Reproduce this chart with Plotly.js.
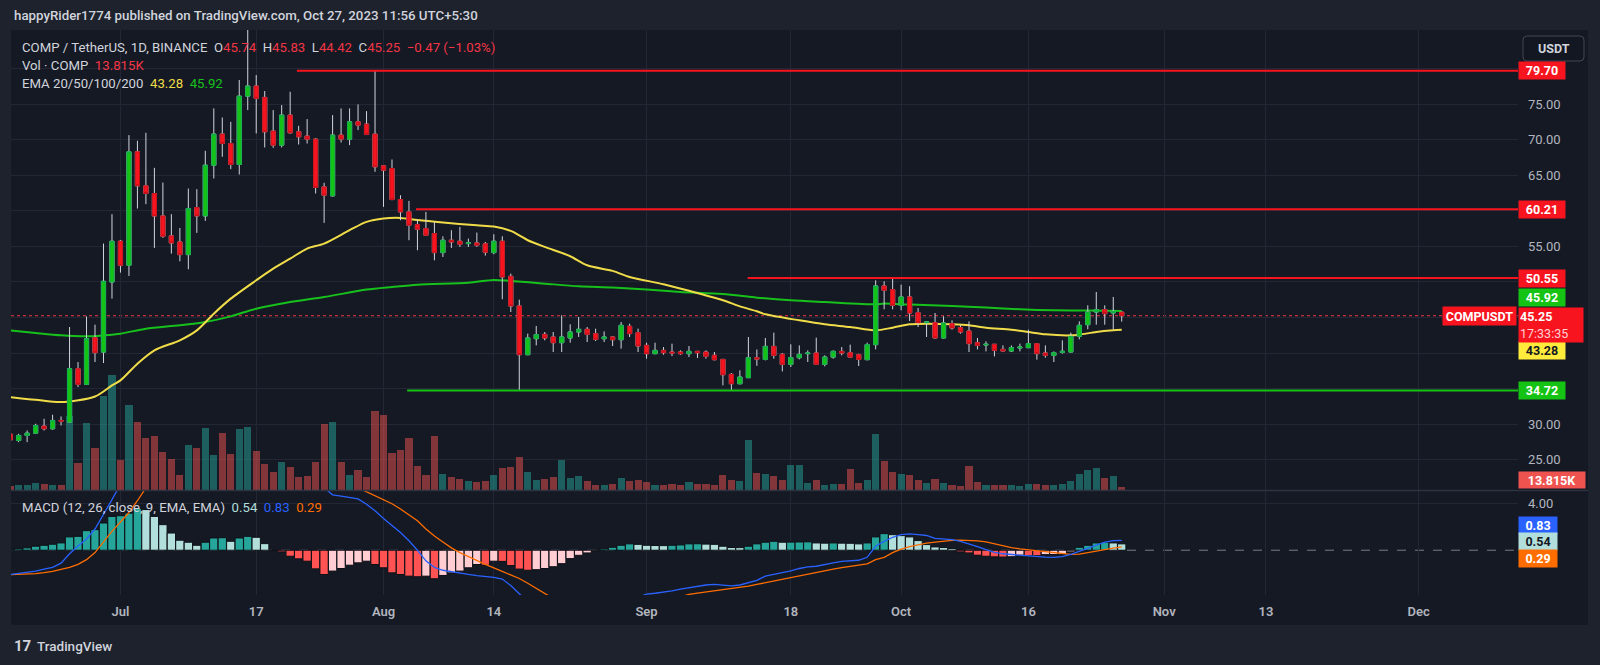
<!DOCTYPE html>
<html><head><meta charset="utf-8">
<script src="https://cdn.plot.ly/plotly-3.0.1.min.js"></script>
<style>html,body{margin:0;padding:0;background:#1e222d;}#chart{width:1600px;height:665px;}</style>
</head><body><div id="chart"></div>
<script>
// ---------------- DATA ----------------
const dates = [
'2023-06-18','2023-06-19','2023-06-20','2023-06-21','2023-06-22','2023-06-23','2023-06-24','2023-06-25','2023-06-26','2023-06-27','2023-06-28','2023-06-29','2023-06-30',
'2023-07-01','2023-07-02','2023-07-03','2023-07-04','2023-07-05','2023-07-06','2023-07-07','2023-07-08','2023-07-09','2023-07-10','2023-07-11','2023-07-12','2023-07-13','2023-07-14','2023-07-15','2023-07-16','2023-07-17','2023-07-18','2023-07-19','2023-07-20','2023-07-21','2023-07-22','2023-07-23','2023-07-24','2023-07-25','2023-07-26','2023-07-27','2023-07-28','2023-07-29','2023-07-30','2023-07-31',
'2023-08-01','2023-08-02','2023-08-03','2023-08-04','2023-08-05','2023-08-06','2023-08-07','2023-08-08','2023-08-09','2023-08-10','2023-08-11','2023-08-12','2023-08-13','2023-08-14','2023-08-15','2023-08-16','2023-08-17','2023-08-18','2023-08-19','2023-08-20','2023-08-21','2023-08-22','2023-08-23','2023-08-24','2023-08-25','2023-08-26','2023-08-27','2023-08-28','2023-08-29','2023-08-30','2023-08-31',
'2023-09-01','2023-09-02','2023-09-03','2023-09-04','2023-09-05','2023-09-06','2023-09-07','2023-09-08','2023-09-09','2023-09-10','2023-09-11','2023-09-12','2023-09-13','2023-09-14','2023-09-15','2023-09-16','2023-09-17','2023-09-18','2023-09-19','2023-09-20','2023-09-21','2023-09-22','2023-09-23','2023-09-24','2023-09-25','2023-09-26','2023-09-27','2023-09-28','2023-09-29','2023-09-30',
'2023-10-01','2023-10-02','2023-10-03','2023-10-04','2023-10-05','2023-10-06','2023-10-07','2023-10-08','2023-10-09','2023-10-10','2023-10-11','2023-10-12','2023-10-13','2023-10-14','2023-10-15','2023-10-16','2023-10-17','2023-10-18','2023-10-19','2023-10-20','2023-10-21','2023-10-22','2023-10-23','2023-10-24','2023-10-25','2023-10-26','2023-10-27'];

const open = [28.6,27.71,28.42,28.74,29.73,29.36,30.53,30.29,37.80,35.60,42.16,40.14,49.99,
55.72,52.34,68.29,63.51,62.43,59.28,56.47,55.62,53.84,60.46,59.28,66.41,70.78,69.46,66.51,76.12,77.53,75.94,71.20,69.23,73.45,71.11,70.50,70.07,63.36,62.10,70.64,70.07,72.51,72.18,70.78,
66.32,65.94,61.58,59.85,58.06,57.50,56.80,54.12,55.86,55.72,55.39,55.48,55.35,54.12,55.72,50.79,46.62,39.77,42.02,42.63,42.26,41.46,42.12,42.96,43.34,42.73,42.02,42.26,41.88,43.76,42.87,
41.08,39.91,40.38,40.15,40.15,39.91,40.24,40.15,39.68,39.11,37.00,35.69,36.54,39.35,39.11,40.94,39.82,38.41,39.35,39.91,40.01,38.41,39.44,40.24,40.05,39.77,39.07,41.18,49.43,48.92,
46.71,47.89,45.68,44.27,44.27,42.12,44.13,43.57,43.10,41.46,41.13,41.23,40.52,40.29,40.71,40.76,41.32,40.01,39.68,40.10,40.15,42.35,43.99,45.77,46.10,45.64,45.74];
const high = [28.8,28.65,29.12,30.06,30.76,31.33,31.09,43.66,38.74,45.16,43.99,55.39,59.52,
55.9,70.64,69.84,70.96,66.04,63.97,59.52,57.59,63.13,63.04,68.43,74.39,73.12,72.51,78.38,86.0,79.08,76.83,74.16,74.86,76.73,71.95,72.89,70.2,63.93,73.45,74.39,74.39,74.95,74.01,79.78,
66.4,67.21,62.19,61.39,58.77,59.85,58.44,56.42,57.27,57.74,56.09,56.94,55.63,56.70,56.42,51.17,47.51,42.73,43.81,42.96,42.96,45.31,44.04,45.07,43.67,43.43,43.05,42.30,44.37,44.13,43.43,
41.46,41.46,40.85,41.32,40.38,40.99,40.30,40.38,40.15,39.15,37.19,37.57,42.26,40.50,42.12,42.87,40.01,41.23,41.08,40.38,42.16,39.68,40.38,40.85,41.18,39.91,41.46,50.23,50.09,50.61,
49.62,49.39,46.34,44.40,45.63,45.17,44.60,43.90,44.46,42.12,41.65,41.28,41.08,41.08,41.32,43.29,41.41,41.08,40.24,41.79,42.87,44.46,46.71,48.59,46.71,47.89,45.83];
const low = [27.5,27.48,27.48,28.65,29.12,29.22,29.82,30.2,35.22,35.50,38.74,38.60,47.65,
51.31,50.84,60.32,60.93,54.78,56.19,53.98,52.90,51.78,56.89,58.58,64.54,67.59,65.85,65.10,74.16,70.87,68.90,68.85,68.90,70.87,69.32,69.46,62.43,58.30,62.0,69.60,69.23,71.34,70.64,65.48,
60.55,61.49,58.67,55.86,54.45,56.5,53.04,53.51,54.78,54.92,54.92,54.92,53.7,53.89,47.56,45.77,34.8,39.7,41.08,41.79,40.15,40.15,41.46,42.26,41.55,41.69,41.55,40.99,40.62,42.26,40.15,
39.21,39.85,39.77,39.58,39.77,39.44,39.30,39.21,38.97,35.46,34.75,35.60,36.50,38.20,38.97,39.21,37.42,38.04,39.11,38.74,38.35,38.13,39.21,39.68,39.40,38.18,39.0,40.52,46.15,46.15,
46.01,44.51,43.66,42.26,42.05,42.05,43.29,42.73,40.15,40.52,40.24,39.54,40.24,40.15,40.24,40.70,39.07,39.35,38.74,39.91,40.10,41.93,43.34,43.99,43.99,43.29,44.42];
const close = [27.8,28.42,28.74,29.82,29.36,30.53,30.43,37.80,35.60,42.02,40.05,50.09,55.72,
52.34,68.29,63.51,62.43,59.28,56.42,55.48,53.84,60.32,59.28,66.41,70.78,69.46,66.51,76.12,77.53,75.80,71.11,69.23,73.45,70.96,70.40,70.07,63.27,62.19,70.64,70.07,72.51,72.04,70.73,66.18,
65.71,61.58,59.85,57.97,57.41,56.56,54.12,55.86,55.62,55.30,55.48,55.16,54.18,55.72,50.70,46.62,39.77,42.12,42.59,42.12,41.46,42.26,42.96,43.34,42.63,41.93,42.26,41.88,43.90,42.73,40.99,
39.91,40.38,40.05,40.01,39.91,40.24,40.05,39.54,39.07,36.96,35.69,36.63,39.35,39.15,40.94,39.68,38.41,39.35,39.82,40.01,38.41,39.44,40.24,40.01,39.44,39.11,41.18,49.43,48.82,46.71,
47.89,45.63,44.27,44.37,42.12,44.23,43.52,42.96,41.32,41.08,41.23,40.38,40.29,40.76,40.85,41.32,39.91,39.68,40.05,40.24,42.35,43.90,45.77,46.10,45.54,45.87,45.25];

// volume in thousands of COMP
const volume = [17,21,25,32,28,21,21,311,113,281,176,395,483,
126,357,286,218,227,160,130,63,189,176,260,147,239,151,256,265,164,109,76,118,97,55,59,118,277,286,118,63,84,55,332,
315,155,168,218,101,63,227,71,55,50,38,34,39,63,94,97,140,77,45,47,55,126,52,59,38,25,21,29,52,38,46,
37,25,21,29,25,34,29,29,25,63,45,41,210,74,70,59,45,106,106,32,46,25,28,28,88,32,43,235,122,76,
70,63,45,32,50,32,25,17,104,37,25,25,25,21,17,29,29,25,25,29,38,70,87,94,52,60,13.815];

const macdHist = [0.05,0.11,0.2,0.34,0.42,0.51,0.62,1.13,1.18,1.66,1.75,2.31,2.87,
2.93,3.15,3.55,3.45,2.87,2.17,1.46,0.85,0.68,0.42,0.68,1.04,1.06,0.76,1.04,1.18,1.1,0.56,-0.04,-0.14,-0.51,-0.73,-0.93,-1.58,-2.06,-1.77,-1.55,-1.27,-1.07,-0.93,-1.21,
-1.49,-1.92,-2.06,-2.2,-2.25,-2.2,-2.42,-2.14,-1.92,-1.77,-1.49,-1.21,-1.27,-0.93,-0.95,-1.3,-1.6,-1.7,-1.65,-1.55,-1.4,-1.14,-0.71,-0.43,-0.23,-0.06,0.11,0.25,0.42,0.54,0.5,
0.42,0.4,0.39,0.42,0.45,0.54,0.55,0.52,0.5,0.34,0.23,0.22,0.34,0.54,0.68,0.76,0.68,0.69,0.70,0.71,0.62,0.60,0.62,0.6,0.59,0.54,0.62,1.13,1.41,1.32,
1.24,1.13,0.82,0.48,0.28,0.23,0.14,-0.14,-0.23,-0.42,-0.51,-0.56,-0.58,-0.55,-0.42,-0.45,-0.46,-0.37,-0.36,-0.34,-0.14,0.25,0.42,0.62,0.68,0.62,0.54];

const N_ = null;
const macdLine = [-2.06,-1.98,-1.88,-1.77,-1.6,-1.45,-1.1,-0.3,0.35,0.95,1.8,3.0,4.3,
5.6,N_,N_,N_,N_,N_,N_,N_,N_,N_,N_,N_,N_,N_,N_,N_,N_,N_,N_,N_,N_,N_,N_,N_,5.3,4.7,4.6,4.5,4.35,3.9,3.35,
2.7,2.1,1.5,0.8,0.0,-0.9,-1.45,-1.7,-1.83,-1.95,-2.05,-2.15,-2.22,-2.3,-2.45,-3.0,-3.7,-4.3,N_,N_,N_,N_,N_,N_,N_,N_,N_,N_,N_,N_,-4.0,
-3.72,-3.65,-3.57,-3.45,-3.3,-3.18,-3.05,-2.95,-2.9,-2.97,-3.02,-2.95,-2.75,-2.55,-2.2,-2.05,-1.95,-1.75,-1.55,-1.42,-1.36,-1.2,-1.07,-0.95,-0.9,-0.85,-0.6,0.34,0.75,1.1,
1.32,1.38,1.33,1.25,1.0,0.95,0.9,0.75,0.55,0.3,0.05,-0.18,-0.3,-0.37,-0.44,-0.51,-0.55,-0.59,-0.6,-0.55,-0.35,-0.1,0.2,0.45,0.68,0.82,0.83];
const signalLine = [-2.08,-2.06,-2.03,-1.98,-1.9,-1.8,-1.63,-1.45,-1.2,-0.8,-0.2,0.7,1.6,
2.4,3.2,4.2,5.3,N_,N_,N_,N_,N_,N_,N_,N_,N_,N_,N_,N_,N_,N_,N_,N_,N_,N_,N_,N_,N_,N_,N_,N_,5.3,4.95,4.6,
4.3,3.95,3.5,3.0,2.5,1.8,1.2,0.7,0.2,-0.2,-0.55,-0.9,-1.2,-1.5,-1.8,-2.1,-2.4,-2.8,-3.25,-3.7,-4.1,N_,N_,N_,N_,N_,N_,N_,N_,N_,N_,
N_,N_,N_,N_,-3.95,-3.75,-3.65,-3.55,-3.45,-3.35,-3.25,-3.18,-3.05,-2.9,-2.75,-2.6,-2.45,-2.3,-2.15,-2.0,-1.85,-1.72,-1.6,-1.47,-1.35,-1.25,-1.15,-0.8,-0.6,-0.2,
0.1,0.3,0.45,0.6,0.68,0.78,0.83,0.85,0.85,0.8,0.7,0.52,0.36,0.22,0.12,0.03,-0.06,-0.14,-0.22,-0.3,-0.36,-0.33,-0.22,-0.1,0.05,0.17,0.29];

// EMA lines, read at sample dates
const emaYellowDates = ['2023-06-18','2023-06-21','2023-06-24','2023-06-28','2023-06-30','2023-07-01','2023-07-03','2023-07-05','2023-07-08','2023-07-10','2023-07-12','2023-07-14','2023-07-17','2023-07-19','2023-07-21','2023-07-23','2023-07-25','2023-07-28','2023-07-30','2023-08-01','2023-08-03','2023-08-05','2023-08-08','2023-08-12','2023-08-14','2023-08-16','2023-08-17','2023-08-18','2023-08-20','2023-08-23','2023-08-25','2023-08-28','2023-08-30','2023-09-03','2023-09-06','2023-09-10','2023-09-12','2023-09-14','2023-09-15','2023-09-19','2023-09-22','2023-09-25','2023-09-28','2023-09-30','2023-10-02','2023-10-04','2023-10-07','2023-10-09','2023-10-11','2023-10-14','2023-10-16','2023-10-18','2023-10-21','2023-10-22','2023-10-24','2023-10-26','2023-10-27'];
const emaYellow = [33.81,33.43,33.11,33.9,35.46,36.16,38.5,40.38,41.79,43.19,45.54,47.65,50.23,51.87,53.28,54.69,55.39,57.27,58.44,58.91,59.0,58.7,58.35,57.95,57.78,57.17,56.56,55.86,54.92,53.61,52.34,51.55,50.7,49.67,48.75,47.42,46.57,45.87,45.45,44.6,44.04,43.66,43.2,43.57,44.04,44.13,44.04,43.9,43.57,43.29,42.96,42.63,42.49,42.59,42.96,43.2,43.28];
const emaGreenDates = ['2023-06-18','2023-06-21','2023-06-24','2023-06-27','2023-06-29','2023-07-01','2023-07-04','2023-07-08','2023-07-11','2023-07-14','2023-07-17','2023-07-21','2023-07-25','2023-07-30','2023-08-02','2023-08-05','2023-08-11','2023-08-14','2023-08-16','2023-08-20','2023-08-24','2023-08-28','2023-09-01','2023-09-05','2023-09-10','2023-09-14','2023-09-18','2023-09-22','2023-09-28','2023-09-29','2023-10-02','2023-10-07','2023-10-11','2023-10-15','2023-10-19','2023-10-23','2023-10-27'];
const emaGreen = [43.19,42.82,42.49,42.35,42.49,42.72,43.43,43.9,44.37,45.16,46.24,47.18,47.88,48.92,49.29,49.62,49.9,50.28,50.14,49.76,49.39,49.2,48.92,48.59,48.3,47.79,47.42,47.18,46.85,46.95,46.81,46.62,46.39,46.15,46.01,45.97,45.92];

// horizontal levels drawn by the author
const levelPrices = [79.70, 60.21, 50.55, 34.72];
const levelStarts = ['2023-07-21 19:00','2023-08-04 20:00','2023-09-12 22:00','2023-08-03 19:00'];

const timeTickDates = ['2023-07-01','2023-07-17','2023-08-01','2023-08-14','2023-09-01','2023-09-18','2023-10-01','2023-10-16','2023-11-01','2023-11-13','2023-12-01'];
const timeTickLabels = ['Jul','17','Aug','14','Sep','18','Oct','16','Nov','13','Dec'];
const priceTicks = [25,30,35,40,45,50,55,60,65,70,75,80];
const priceTickLabels = ['25.00','30.00','','','','','55.00','','65.00','70.00','75.00',''];
const volLast = '13.815K';
const changeText = '\u22120.47 (\u22121.03%)';
const countdown = '17:33:35';

// ---------------- STYLE ----------------
const L=11, R=1518, T=30, B=595, PW=R-L, PH=B-T;
const px = x => (x-L)/PW, py = y => (B-y)/PH;
const split = py(490.5);
const xRange = ['2023-06-18 02:24','2023-12-12 16:48'];
const RED='#f7141f', GREEN='#14c314', UPB='#0fae4a', DNB='#c8101a';
const BG='#151924', GRID='#232735', TXT='#b2b5be';
const DAY=86400000;
const last = dates.length-1;

const volColors = close.map((c,i)=> c>=open[i] ? 'rgba(38,166,154,0.5)' : 'rgba(239,83,80,0.5)');
const histColors = macdHist.map((v,i)=>{
  const p = i>0 ? macdHist[i-1] : v;
  if (v>=0) return v>=p ? '#26a69a' : '#b2dfdb';
  return v<p ? '#ff5252' : '#ffcdd2';
});
const bodyHigh = open.map((o,i)=>Math.max(o,close[i]));
const bodyLow = open.map((o,i)=>Math.min(o,close[i]));

const traces = [
  {type:'bar', x:dates, y:volume, xaxis:'x', yaxis:'y', marker:{color:volColors, line:{width:0}}, width:0.84*DAY, hoverinfo:'skip', showlegend:false},
  {type:'scatter', mode:'lines', x:emaGreenDates, y:emaGreen, xaxis:'x', yaxis:'y2', line:{color:'#17c11c', width:2, shape:'spline', smoothing:0.8}, hoverinfo:'skip', showlegend:false},
  {type:'scatter', mode:'lines', x:emaYellowDates, y:emaYellow, xaxis:'x', yaxis:'y2', line:{color:'#f0dc48', width:2, shape:'spline', smoothing:0.8}, hoverinfo:'skip', showlegend:false},
  {type:'candlestick', x:dates, open:open, high:high, low:low, close:close, xaxis:'x', yaxis:'y4',
    increasing:{line:{color:'#d1d4dc', width:1}, fillcolor:'rgba(0,0,0,0)'},
    decreasing:{line:{color:'#d1d4dc', width:1}, fillcolor:'rgba(0,0,0,0)'}, hoverinfo:'skip', showlegend:false},
  {type:'candlestick', x:dates, open:open, high:bodyHigh, low:bodyLow, close:close, xaxis:'x', yaxis:'y4',
    increasing:{line:{color:UPB, width:1}, fillcolor:GREEN},
    decreasing:{line:{color:DNB, width:1}, fillcolor:RED}, hoverinfo:'skip', showlegend:false},
  {type:'bar', x:dates, y:macdHist, xaxis:'x', yaxis:'y3', marker:{color:histColors, line:{color:'#0d1017', width:1}}, width:0.98*DAY, hoverinfo:'skip', showlegend:false},
  {type:'scatter', mode:'lines', x:dates, y:signalLine, xaxis:'x', yaxis:'y3', line:{color:'#ff6d00', width:1.3}, connectgaps:false, hoverinfo:'skip', showlegend:false},
  {type:'scatter', mode:'lines', x:dates, y:macdLine, xaxis:'x', yaxis:'y3', line:{color:'#2962ff', width:1.3}, connectgaps:false, hoverinfo:'skip', showlegend:false}
];

const priceRange = [20.68, 85.414];
const shapes = [
  {type:'rect', xref:'paper', yref:'paper', x0:0, x1:px(1588), y0:py(625), y1:1, fillcolor:BG, line:{width:0}, layer:'below'},
  {type:'line', xref:'paper', yref:'paper', x0:0, x1:px(1588), y0:split, y1:split, line:{color:'#2f3340', width:1.5}, layer:'above'},
  {type:'line', xref:'paper', yref:'y2', x0:0, x1:1, y0:close[last], y1:close[last], line:{color:'#f23645', width:1, dash:'dot'}, layer:'below'},
  {type:'line', xref:'paper', yref:'y3', x0:0, x1:1, y0:0, y1:0, line:{color:'#787b86', width:1, dash:'dash'}, layer:'below'},
  // USDT button frame (rounded)
  {type:'path', xref:'paper', yref:'paper',
   path:`M ${px(1527)} ${py(36)} L ${px(1580)} ${py(36)} Q ${px(1584)} ${py(36)} ${px(1584)} ${py(40)} L ${px(1584)} ${py(57)} Q ${px(1584)} ${py(61)} ${px(1580)} ${py(61)} L ${px(1527)} ${py(61)} Q ${px(1523)} ${py(61)} ${px(1523)} ${py(57)} L ${px(1523)} ${py(40)} Q ${px(1523)} ${py(36)} ${px(1527)} ${py(36)} Z`,
   fillcolor:'#131722', line:{color:'#434651', width:1}, layer:'above'}
];
const levelColors = [RED, RED, RED, GREEN];
levelPrices.forEach((p,i)=>shapes.push({type:'line', xref:'x', yref:'y2', x0:levelStarts[i], x1:xRange[1], y0:p, y1:p, line:{color:levelColors[i], width:2}, layer:'above'}));

const f = v => v.toFixed(2);
function tag(text, y, yref, bg, fg, w, shift){
  return {xref:'paper', yref:yref, x:1, y:y, xanchor:'left', yanchor:'middle', text:'<b>'+text+'</b>', showarrow:false,
    bgcolor:bg, font:{color:fg, size:12.5}, width:w, height:15, borderpad:1, yshift:shift, align:'center'};
}
const ann = [
  {xref:'paper', yref:'paper', x:px(12), y:py(16), xanchor:'left', yanchor:'middle', showarrow:false,
   text:'happyRider1774 published on TradingView.com, Oct 27, 2023 11:56 UTC+5:30', font:{color:'#d1d4dc', size:13.3, weight:500}},
  {xref:'paper', yref:'paper', x:px(20), y:py(47.3), xanchor:'left', yanchor:'middle', showarrow:false,
   text:'COMP / TetherUS, 1D, BINANCE&nbsp;&nbsp;O<span style="color:#f23645">'+f(open[last])+'</span>&nbsp;&nbsp;H<span style="color:#f23645">'+f(high[last])+'</span>&nbsp;&nbsp;L<span style="color:#f23645">'+f(low[last])+'</span>&nbsp;&nbsp;C<span style="color:#f23645">'+f(close[last])+'</span>&nbsp;&nbsp;<span style="color:#f23645">'+changeText+'</span>',
   font:{color:'#d1d4dc', size:13.2}},
  {xref:'paper', yref:'paper', x:px(20), y:py(65.5), xanchor:'left', yanchor:'middle', showarrow:false,
   text:'Vol \u00b7 COMP&nbsp;&nbsp;<span style="color:#f23645">'+volLast+'</span>', font:{color:'#d1d4dc', size:13.2}},
  {xref:'paper', yref:'paper', x:px(20), y:py(84), xanchor:'left', yanchor:'middle', showarrow:false,
   text:'EMA 20/50/100/200&nbsp;&nbsp;<span style="color:#f0dc48">'+f(emaYellow[emaYellow.length-1])+'</span>&nbsp;&nbsp;<span style="color:#17c11c">'+f(emaGreen[emaGreen.length-1])+'</span>', font:{color:'#d1d4dc', size:13.2}},
  {xref:'paper', yref:'paper', x:px(20), y:py(507.7), xanchor:'left', yanchor:'middle', showarrow:false,
   text:'MACD (12, 26, close, 9, EMA, EMA)&nbsp;&nbsp;<span style="color:#b2dfdb">'+f(macdHist[last])+'</span>&nbsp;&nbsp;<span style="color:#2962ff">'+f(macdLine[last])+'</span>&nbsp;&nbsp;<span style="color:#ff6d00">'+f(signalLine[last])+'</span>', font:{color:'#d1d4dc', size:13.2}},
  {xref:'paper', yref:'paper', x:px(1553.5), y:py(48.5), xanchor:'center', yanchor:'middle', showarrow:false,
   text:'<b>USDT</b>', font:{color:'#d1d4dc', size:12.5}},
  {xref:'paper', yref:'paper', x:px(12), y:py(646), xanchor:'left', yanchor:'middle', showarrow:false,
   text:'<b>17</b>', font:{color:'#d1d4dc', size:15}},
  {xref:'paper', yref:'paper', x:px(35), y:py(646), xanchor:'left', yanchor:'middle', showarrow:false,
   text:'TradingView', font:{color:'#d1d4dc', size:13.5, weight:500}},
  // price tags
  tag(f(levelPrices[0]), levelPrices[0], 'y2', RED, '#ffffff', 44, 0),
  tag(f(levelPrices[1]), levelPrices[1], 'y2', RED, '#ffffff', 44, 0),
  tag(f(levelPrices[2]), levelPrices[2], 'y2', RED, '#ffffff', 44, 0),
  tag(f(emaGreen[emaGreen.length-1]), emaGreen[emaGreen.length-1], 'y2', GREEN, '#ffffff', 44, 13),
  tag(f(levelPrices[3]), levelPrices[3], 'y2', GREEN, '#ffffff', 44, 0),
  tag(f(emaYellow[emaYellow.length-1]), emaYellow[emaYellow.length-1], 'y2', '#ffeb3b', '#131722', 44, -20.5),
  {xref:'paper', yref:'y2', x:1, y:close[last], xanchor:'left', yanchor:'top', yshift:8.5, showarrow:false,
   text:'<b>'+f(close[last])+'</b><br><span style="color:#ffd0d3">'+countdown+'</span>', align:'left',
   bgcolor:RED, font:{color:'#ffffff', size:12.5}, width:62, height:32, borderpad:1},
  {xref:'paper', yref:'y2', x:1, y:close[last], xanchor:'right', yanchor:'middle', xshift:-1, showarrow:false,
   text:'<b>COMPUSDT</b>', bgcolor:RED, font:{color:'#ffffff', size:12.5}, width:70, height:15, borderpad:1.5},
  {xref:'paper', yref:'y', x:1, y:0, xanchor:'left', yanchor:'bottom', yshift:2, showarrow:false,
   text:'<b>'+volLast+'</b>', bgcolor:'#ef5350', font:{color:'#ffffff', size:12.5}, width:64, height:14, borderpad:1},
  // MACD tags
  tag(f(macdLine[last]), macdLine[last], 'y3', '#2962ff', '#ffffff', 36, 15),
  tag(f(macdHist[last]), macdHist[last], 'y3', '#b2dfdb', '#131722', 36, 2),
  tag(f(signalLine[last]), signalLine[last], 'y3', '#ff6d00', '#ffffff', 36, -12)
];

const layout = {
  width:1600, height:665, margin:{l:L, r:1600-R, t:T, b:665-B, pad:0},
  paper_bgcolor:'#1e222d', plot_bgcolor:BG,
  font:{family:'Roboto, "Liberation Sans", sans-serif', color:TXT},
  showlegend:false, bargap:0, barmode:'overlay', hovermode:false,
  xaxis:{type:'date', range:xRange, domain:[0,1], anchor:'y3', showgrid:true, gridcolor:GRID, gridwidth:1,
    tickvals:timeTickDates, ticktext:timeTickLabels, ticks:'', ticklabelstandoff:7, tickfont:{size:13, color:TXT, weight:600},
    zeroline:false, showline:false, rangeslider:{visible:false}, fixedrange:true},
  yaxis:{domain:[split,1], range:[0,1926], visible:false, showgrid:false, zeroline:false, fixedrange:true},
  yaxis2:{overlaying:'y', side:'right', anchor:'x', range:priceRange, tickvals:priceTicks, ticktext:priceTickLabels,
    showgrid:true, gridcolor:GRID, zeroline:false, ticks:'', ticklabelstandoff:9, tickfont:{size:13, color:TXT}, showline:false, fixedrange:true},
  yaxis4:{overlaying:'y', range:priceRange, visible:false, showgrid:false, zeroline:false, fixedrange:true},
  yaxis3:{domain:[0,split], anchor:'x', side:'right', range:[-3.80,5.07], tickvals:[4], ticktext:['4.00'],
    showgrid:true, gridcolor:GRID, zeroline:false, ticks:'', ticklabelstandoff:9, tickfont:{size:13, color:TXT}, showline:false, fixedrange:true},
  shapes:shapes, annotations:ann
};
Plotly.newPlot('chart', traces, layout, {displayModeBar:false, staticPlot:true});
</script></body></html>
